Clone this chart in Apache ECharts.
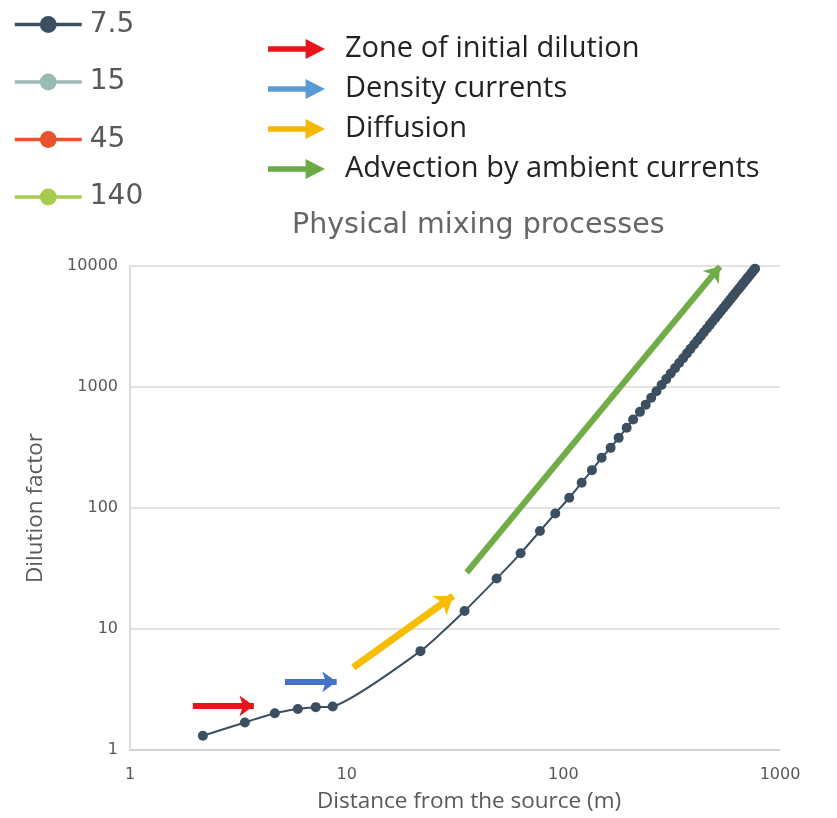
<!DOCTYPE html>
<html>
<head>
<meta charset="utf-8">
<script src="https://cdn.jsdelivr.net/npm/echarts@6/dist/echarts.min.js"></script>
<style>
html,body{margin:0;padding:0;background:#fff;}
#chart{width:837px;height:818px;}
</style>
</head>
<body>
<div id="chart"></div>
<script>
// ---- data ----
const seriesNames = ['7.5', '15', '45', '140'];
const distance = [2.17,3.39,4.66,5.95,7.2,8.62,21.9,35,49.2,63.5,78,91.8,106.5,121.5,135.5,150.2,165.3,180,196,210,225.7,
  240,254.5,269,284,298.5,313,328,342.5,357,372,386.5,401,416,430.5,445,460,474.5,489,504,518.5,533,548,562.5,577,592,
  606.5,621,636,650.5,665,680,694.5,709,724,738.5,753,767];
const dilution75 = [1.31,1.69,2.01,2.18,2.26,2.29,6.56,14.1,26.1,42.2,64.5,90.2,121.6,161.7,205.5,260,314,380,460,538,623,
  715,815,922,1040,1162,1291,1433,1579,1731,1897,2067,2242,2434,2627,2829,3045,3263,3489,3732,3977,4227,4498,4765,5045,5341,
  5636,5941,6267,6587,6920,7272,7624,7980,8360,8738,9127,9511];
const processNames = ['Zone of initial dilution', 'Density currents', 'Diffusion', 'Advection by ambient currents'];
// arrow annotations: [fromX, fromY, toX, toY] in data units
const processArrows = [
  [1.95, 2.32, 3.73, 2.32],
  [5.19, 3.66, 8.99, 3.66],
  [10.73, 4.81, 31.0, 18.75],
  [35.8, 29.3, 528, 9900]
];

// ---- styles ----
const seriesColors = ['#3b4f61', '#9bbab4', '#e8532c', '#a8ca4e'];
const processLegendColors = ['#e8141b', '#5b9bd5', '#f4b800', '#6aab46'];
const processArrowColors = ['#e8141b', '#4472c4', '#f7bd00', '#70ad47'];
const processArrowWidths = [6, 6, 7, 6];

const chart = echarts.init(document.getElementById('chart'), null, {renderer: 'canvas'});

const series = seriesNames.map((n, i) => ({
  name: n,
  type: 'line',
  data: i === 0 ? distance.map((d, k) => [d, dilution75[k]]) : [],
  symbol: 'circle',
  symbolSize: 10,
  smooth: 0.2,
  color: seriesColors[i],
  lineStyle: {width: 2, color: seriesColors[i]},
  itemStyle: {color: seriesColors[i]},
  z: 3
}));

processNames.forEach((n, i) => {
  const a = processArrows[i];
  series.push({
    name: n,
    type: 'line',
    data: [],
    color: processLegendColors[i],
    itemStyle: {color: processLegendColors[i]},
    markLine: {
      silent: true,
      symbol: ['none', 'arrow'],
      symbolSize: [processArrowWidths[i] * 2.6, processArrowWidths[i] * 2.4],
      label: {show: false},
      lineStyle: {color: processArrowColors[i], width: processArrowWidths[i], type: 'solid'},
      data: [[{coord: [a[0], a[1]]}, {coord: [a[2], a[3]]}]]
    },
    z: 2
  });
});

const arrowIcon = 'path://M0,38L66,38L66,6L100,50L66,94L66,62L0,62Z';
const plainNumber = v => String(Math.round(v));

chart.setOption({
  animation: false,
  backgroundColor: '#ffffff',
  title: {
    text: 'Physical mixing processes',
    left: 287, top: 206,
    textStyle: {fontFamily: 'DejaVu Sans', fontSize: 28.5, fontWeight: 'normal', color: '#666666'}
  },
  legend: [
    {
      data: seriesNames,
      orient: 'vertical',
      left: 8, top: 3,
      itemWidth: 67, itemHeight: 21,
      itemGap: 24.5,
      lineStyle: {width: 3.5},
      textStyle: {fontFamily: 'DejaVu Sans', fontSize: 28, color: '#595959', lineHeight: 33, padding: [0, 0, 0, 3]}
    },
    {
      data: processNames.map(n => ({name: n, icon: arrowIcon})),
      orient: 'vertical',
      left: 263, top: 27,
      itemWidth: 57, itemHeight: 20,
      symbolKeepAspect: false,
      itemGap: 6,
      textStyle: {fontFamily: 'Open Sans', fontSize: 29, color: '#222222', lineHeight: 34, padding: [0, 0, 0, 15]}
    }
  ],
  grid: {left: 130, right: 57, top: 266, bottom: 67, containLabel: false},
  xAxis: {
    type: 'log', logBase: 10, min: 1, max: 1000,
    name: 'Distance from the source (m)',
    nameLocation: 'middle', nameGap: 40,
    nameTextStyle: {fontFamily: 'Open Sans', fontSize: 22.5, color: '#595959', padding: [0, 0, 0, 28]},
    axisLine: {show: true, lineStyle: {color: '#d0d0d0', width: 1.5}},
    axisTick: {show: false},
    minorTick: {show: false},
    splitLine: {show: false},
    axisLabel: {fontFamily: 'DejaVu Sans', fontSize: 16, color: '#595959', margin: 17, formatter: plainNumber}
  },
  yAxis: {
    type: 'log', logBase: 10, min: 1, max: 10000,
    name: 'Dilution factor',
    nameLocation: 'middle', nameGap: 83,
    nameTextStyle: {fontFamily: 'Open Sans', fontSize: 22.5, color: '#595959'},
    axisLine: {show: true, lineStyle: {color: '#d0d0d0', width: 1.5}},
    axisTick: {show: false},
    splitLine: {show: true, lineStyle: {color: '#d9d9d9', width: 1.5}},
    axisLabel: {fontFamily: 'DejaVu Sans', fontSize: 16, color: '#595959', margin: 12, formatter: plainNumber}
  },
  series: series
});
</script>
</body>
</html>
